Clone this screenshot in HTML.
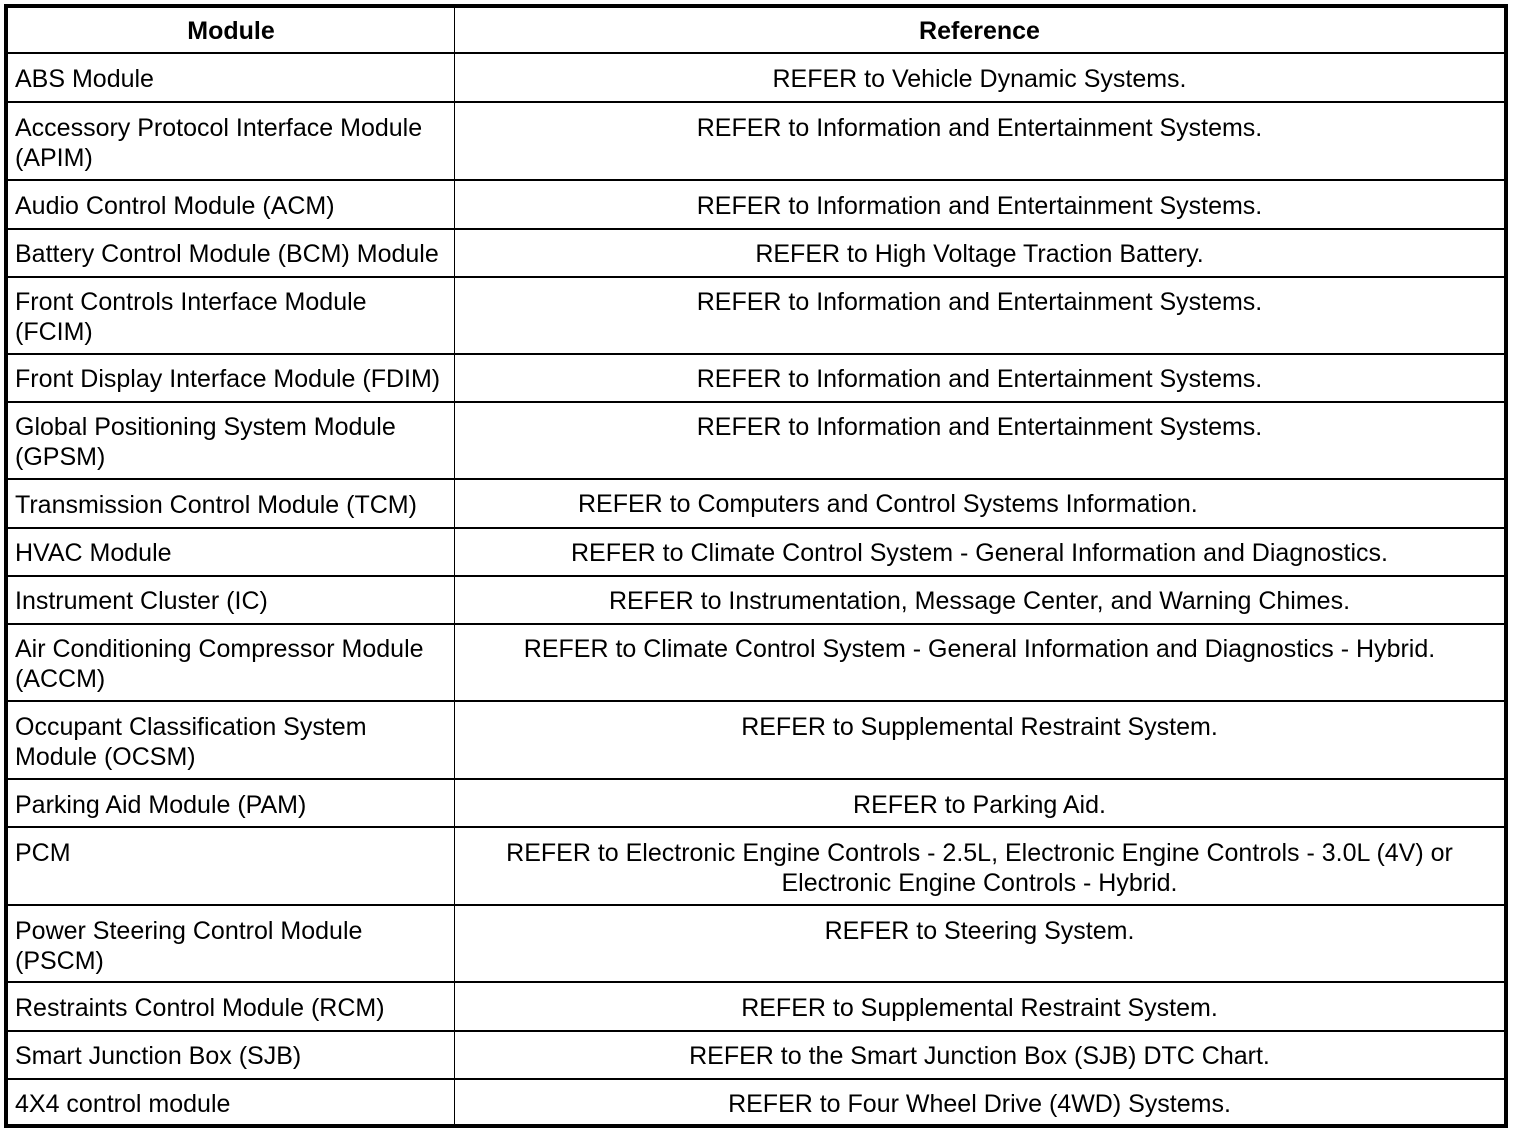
<!DOCTYPE html>
<html>
<head>
<meta charset="utf-8">
<style>
  html,body{margin:0;padding:0;background:#fff;}
  body{width:1520px;height:1134px;position:relative;overflow:hidden;
       font-family:"Liberation Sans","Arial",sans-serif;color:#000;}
  .frame{position:absolute;left:4px;top:4px;width:1496px;height:1116px;border:4px solid #000;}
  .h{position:absolute;left:8px;width:1496px;height:2px;background:#000;}
  .v{position:absolute;left:454px;top:8px;width:1px;height:1116px;background:#000;}
  .t{position:absolute;font-size:25px;line-height:30px;white-space:nowrap;margin-top:1px;}
  .l{left:15px;}
  .r{left:455px;width:1049px;text-align:center;}
  .hl{left:8px;width:446px;text-align:center;font-weight:bold;}
  .hr{left:455px;width:1049px;text-align:center;font-weight:bold;}
</style>
</head>
<body>
<div class="frame"></div>
<div class="v"></div>

<div class="h" style="top:52px"></div>
<div class="h" style="top:101px"></div>
<div class="h" style="top:179px"></div>
<div class="h" style="top:228px"></div>
<div class="h" style="top:276px"></div>
<div class="h" style="top:353px"></div>
<div class="h" style="top:401px"></div>
<div class="h" style="top:478px"></div>
<div class="h" style="top:527px"></div>
<div class="h" style="top:575px"></div>
<div class="h" style="top:623px"></div>
<div class="h" style="top:700px"></div>
<div class="h" style="top:778px"></div>
<div class="h" style="top:826px"></div>
<div class="h" style="top:904px"></div>
<div class="h" style="top:981px"></div>
<div class="h" style="top:1030px"></div>
<div class="h" style="top:1078px"></div>

<div class="t hl" style="top:15px">Module</div>
<div class="t hr" style="top:15px">Reference</div>

<div class="t l" style="top:63px">ABS Module</div>
<div class="t r" style="top:63px">REFER to Vehicle Dynamic Systems.</div>

<div class="t l" style="top:112px">Accessory Protocol Interface Module<br>(APIM)</div>
<div class="t r" style="top:112px">REFER to Information and Entertainment Systems.</div>

<div class="t l" style="top:190px">Audio Control Module (ACM)</div>
<div class="t r" style="top:190px">REFER to Information and Entertainment Systems.</div>

<div class="t l" style="top:238px">Battery Control Module (BCM) Module</div>
<div class="t r" style="top:238px">REFER to High Voltage Traction Battery.</div>

<div class="t l" style="top:286px">Front Controls Interface Module<br>(FCIM)</div>
<div class="t r" style="top:286px">REFER to Information and Entertainment Systems.</div>

<div class="t l" style="top:363px">Front Display Interface Module (FDIM)</div>
<div class="t r" style="top:363px">REFER to Information and Entertainment Systems.</div>

<div class="t l" style="top:411px">Global Positioning System Module<br>(GPSM)</div>
<div class="t r" style="top:411px">REFER to Information and Entertainment Systems.</div>

<div class="t l" style="top:489px">Transmission Control Module (TCM)</div>
<div class="t" style="top:488px;left:578px">REFER to Computers and Control Systems Information.</div>

<div class="t l" style="top:537px">HVAC Module</div>
<div class="t r" style="top:537px">REFER to Climate Control System - General Information and Diagnostics.</div>

<div class="t l" style="top:585px">Instrument Cluster (IC)</div>
<div class="t r" style="top:585px">REFER to Instrumentation, Message Center, and Warning Chimes.</div>

<div class="t l" style="top:633px">Air Conditioning Compressor Module<br>(ACCM)</div>
<div class="t r" style="top:633px">REFER to Climate Control System - General Information and Diagnostics - Hybrid.</div>

<div class="t l" style="top:711px">Occupant Classification System<br>Module (OCSM)</div>
<div class="t r" style="top:711px">REFER to Supplemental Restraint System.</div>

<div class="t l" style="top:789px">Parking Aid Module (PAM)</div>
<div class="t r" style="top:789px">REFER to Parking Aid.</div>

<div class="t l" style="top:837px">PCM</div>
<div class="t r" style="top:837px">REFER to Electronic Engine Controls - 2.5L, Electronic Engine Controls - 3.0L (4V) or<br>Electronic Engine Controls - Hybrid.</div>

<div class="t l" style="top:915px">Power Steering Control Module<br>(PSCM)</div>
<div class="t r" style="top:915px">REFER to Steering System.</div>

<div class="t l" style="top:992px">Restraints Control Module (RCM)</div>
<div class="t r" style="top:992px">REFER to Supplemental Restraint System.</div>

<div class="t l" style="top:1040px">Smart Junction Box (SJB)</div>
<div class="t r" style="top:1040px">REFER to the Smart Junction Box (SJB) DTC Chart.</div>

<div class="t l" style="top:1088px">4X4 control module</div>
<div class="t r" style="top:1088px">REFER to Four Wheel Drive (4WD) Systems.</div>
</body>
</html>
